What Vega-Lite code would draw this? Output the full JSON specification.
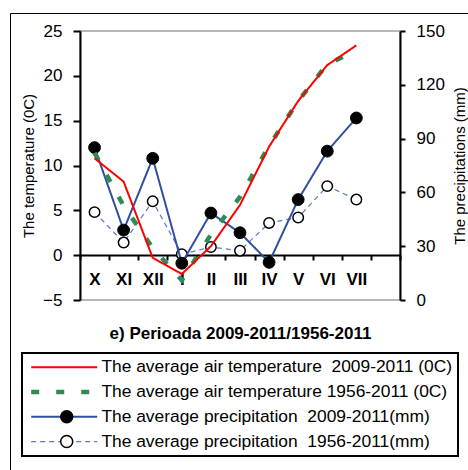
{
  "$schema": "https://vega.github.io/schema/vega-lite/v6.json",
  "width": 320,
  "height": 269,
  "autosize": "none",
  "padding": {"left": 80, "top": 31, "right": 68, "bottom": 170},
  "background": "white",
  "config": {
    "font": "Liberation Sans",
    "view": {"stroke": "#a0a0a0", "strokeWidth": 1.5},
    "axis": {"grid": false, "domainColor": "black", "tickColor": "black", "domainWidth": 2, "tickWidth": 2, "labelColor": "black", "titleColor": "black", "labelFont": "Liberation Sans", "titleFont": "Liberation Sans"},
    "legend": {"labelFont": "Liberation Sans", "labelColor": "black"}
  },
  "data": {
    "values": [
      {"month": "X", "series": "T1", "value": 10.8},
      {"month": "XI", "series": "T1", "value": 8.2},
      {"month": "XII", "series": "T1", "value": -0.3},
      {"month": "I", "series": "T1", "value": -2.1},
      {"month": "II", "series": "T1", "value": 1.0},
      {"month": "III", "series": "T1", "value": 5.6},
      {"month": "IV", "series": "T1", "value": 12.1},
      {"month": "V", "series": "T1", "value": 17.2},
      {"month": "VI", "series": "T1", "value": 21.2},
      {"month": "VII", "series": "T1", "value": 23.4},
      {"month": "X", "series": "T2", "value": 11.4},
      {"month": "XI", "series": "T2", "value": 5.5},
      {"month": "XII", "series": "T2", "value": 0.8},
      {"month": "I", "series": "T2", "value": -2.8},
      {"month": "II", "series": "T2", "value": 2.3},
      {"month": "III", "series": "T2", "value": 6.5},
      {"month": "IV", "series": "T2", "value": 12.2},
      {"month": "V", "series": "T2", "value": 17.2},
      {"month": "VI", "series": "T2", "value": 21.3},
      {"month": "VII", "series": "T2", "value": 22.8},
      {"month": "X", "series": "P1", "value": 85},
      {"month": "XI", "series": "P1", "value": 39},
      {"month": "XII", "series": "P1", "value": 79},
      {"month": "I", "series": "P1", "value": 20.5},
      {"month": "II", "series": "P1", "value": 48.5},
      {"month": "III", "series": "P1", "value": 37.5},
      {"month": "IV", "series": "P1", "value": 21},
      {"month": "V", "series": "P1", "value": 56},
      {"month": "VI", "series": "P1", "value": 83},
      {"month": "VII", "series": "P1", "value": 101.5},
      {"month": "X", "series": "P2", "value": 49},
      {"month": "XI", "series": "P2", "value": 32},
      {"month": "XII", "series": "P2", "value": 55},
      {"month": "I", "series": "P2", "value": 25.5},
      {"month": "II", "series": "P2", "value": 29.5},
      {"month": "III", "series": "P2", "value": 27.5},
      {"month": "IV", "series": "P2", "value": 43},
      {"month": "V", "series": "P2", "value": 46},
      {"month": "VI", "series": "P2", "value": 63.5},
      {"month": "VII", "series": "P2", "value": 56}
    ]
  },
  "encoding": {
    "x": {
      "field": "month",
      "type": "ordinal",
      "scale": {"type": "band", "domain": ["X", "XI", "XII", "I", "II", "III", "IV", "V", "VI", "VII", "VIII"], "paddingInner": 0, "paddingOuter": 0},
      "axis": {
        "offset": -45, "tickBand": "extent", "tickSize": 5, "labelPadding": 11,
        "labelFontSize": 17, "labelFontWeight": "bold", "labelAngle": 0,
        "labelExpr": "datum.value == 'VIII' ? '' : datum.value",
        "title": "e) Perioada 2009-2011/1956-2011", "titleFontSize": 17, "titleFontWeight": "bold", "titlePadding": 38
      }
    }
  },
  "layer": [
    {
      "encoding": {
        "y": {
          "field": "value", "type": "quantitative",
          "scale": {"domain": [0, 150], "nice": false},
          "axis": {"orient": "right", "values": [0, 30, 60, 90, 120, 150], "tickSize": 5, "labelPadding": 11, "labelFontSize": 17,
            "title": "The precipitations (mm)", "titleFontSize": 15, "titleFontWeight": "normal", "titleAngle": 270, "titleBaseline": "top", "titlePadding": 8}
        }
      },
      "layer": [
        {
          "transform": [{"filter": "datum.series == 'P2'"}],
          "mark": {"type": "line", "strokeWidth": 1.2},
          "encoding": {
            "color": {"field": "series", "type": "nominal", "scale": {"domain": ["T1", "T2", "P1", "P2"], "range": ["#ff0000", "#2e8b57", "#2f4fa0", "#5a78c8"]}},
            "strokeDash": {"field": "series", "type": "nominal", "scale": {"domain": ["T1", "T2", "P1", "P2"], "range": [[1, 0], [8, 17], [1, 0], [5, 4]]}}
          }
        },
        {
          "transform": [{"filter": "datum.series == 'P2'"}],
          "mark": {"type": "point", "filled": true, "stroke": "black", "strokeWidth": 1.5, "size": 110, "opacity": 1},
          "encoding": {
            "fill": {"field": "series", "type": "nominal", "scale": {"domain": ["P1", "P2"], "range": ["black", "white"]}}
          }
        },
        {
          "transform": [{"filter": "datum.series == 'P1'"}],
          "mark": {"type": "line", "strokeWidth": 2},
          "encoding": {
            "color": {"field": "series", "type": "nominal", "scale": {"domain": ["T1", "T2", "P1", "P2"], "range": ["#ff0000", "#2e8b57", "#2f4fa0", "#5a78c8"]}},
            "strokeDash": {"field": "series", "type": "nominal", "scale": {"domain": ["T1", "T2", "P1", "P2"], "range": [[1, 0], [8, 17], [1, 0], [5, 4]]}}
          }
        },
        {
          "transform": [{"filter": "datum.series == 'P1'"}],
          "mark": {"type": "point", "filled": true, "stroke": "black", "strokeWidth": 1, "size": 140, "opacity": 1},
          "encoding": {
            "fill": {
              "field": "series", "type": "nominal",
              "scale": {"domain": ["P1", "P2"], "range": ["black", "white"]},
              "legend": {
                "orient": "none", "legendX": -70, "legendY": -18,
                "title": " ", "titleFontSize": 2, "titlePadding": 363,
                "padding": 30, "symbolType": "circle", "symbolSize": 144, "symbolOffset": 18,
                "labelFontSize": 17.4, "labelOpacity": 0, "labelOffset": 372, "labelLimit": 600, "rowPadding": 5.8,
                "labelExpr": "'\u00a0\u00a0\u00a0\u00a0'",
                "strokeColor": "black",
                "encode": {
                  "symbols": {"update": {
                    "strokeWidth": {"value": 1.5},
                    "size": {"signal": "datum.value == 'P1' ? 144 : 100"}
                  }},
                  "legend": {"update": {"strokeWidth": {"value": 2}}}
                }
              }
            }
          }
        }
      ]
    },
    {
      "encoding": {
        "y": {
          "field": "value", "type": "quantitative",
          "scale": {"domain": [-5, 25], "nice": false},
          "axis": {"orient": "left", "values": [-5, 0, 5, 10, 15, 20, 25], "tickSize": 7, "labelPadding": 11, "labelFontSize": 17,
            "title": "The temperature (0C)", "titleFontSize": 15, "titleFontWeight": "normal", "titlePadding": 6}
        }
      },
      "layer": [
        {
          "transform": [{"filter": "datum.series == 'T2'"}],
          "mark": {"type": "line", "strokeWidth": 4.5},
          "encoding": {
            "color": {"field": "series", "type": "nominal", "scale": {"domain": ["T1", "T2", "P1", "P2"], "range": ["#ff0000", "#2e8b57", "#2f4fa0", "#5a78c8"]}},
            "strokeDash": {"field": "series", "type": "nominal", "scale": {"domain": ["T1", "T2", "P1", "P2"], "range": [[1, 0], [8, 17], [1, 0], [5, 4]]}}
          }
        },
        {
          "transform": [{"filter": "datum.series == 'T1'"}],
          "mark": {"type": "line", "strokeWidth": 2},
          "encoding": {
            "color": {
              "field": "series", "type": "nominal",
              "scale": {"domain": ["T1", "T2", "P1", "P2"], "range": ["#ff0000", "#2e8b57", "#2f4fa0", "#5a78c8"]},
              "legend": {
                "orient": "none", "legendX": -58, "legendY": 322, "title": null,
                "padding": 5.5, "symbolType": "M-0.588,0L7.176,0", "symbolSize": 289,
                "labelOffset": 56.5, "labelFontSize": 17.4, "labelLimit": 600, "rowPadding": 5.8,
                "strokeColor": "black",
                "labelExpr": "{'T1': 'The average air temperature\u00a0 2009-2011 (0C)', 'T2': 'The average air temperature 1956-2011 (0C)', 'P1': 'The average precipitation\u00a0 2009-2011(mm)', 'P2': 'The average precipitation\u00a0 1956-2011(mm)'}[datum.value]",
                "encode": {
                  "symbols": {"update": {
                    "strokeWidth": {"signal": "datum.value == 'T2' ? 4.5 : datum.value == 'P2' ? 1.2 : 2"}
                  }},
                  "legend": {"update": {"strokeWidth": {"value": 2}}}
                }
              }
            },
            "strokeDash": {"field": "series", "type": "nominal", "scale": {"domain": ["T1", "T2", "P1", "P2"], "range": [[1, 0], [8, 17], [1, 0], [5, 4]]}}
          }
        }
      ]
    }
  ],
  "resolve": {"scale": {"y": "independent"}}
}
